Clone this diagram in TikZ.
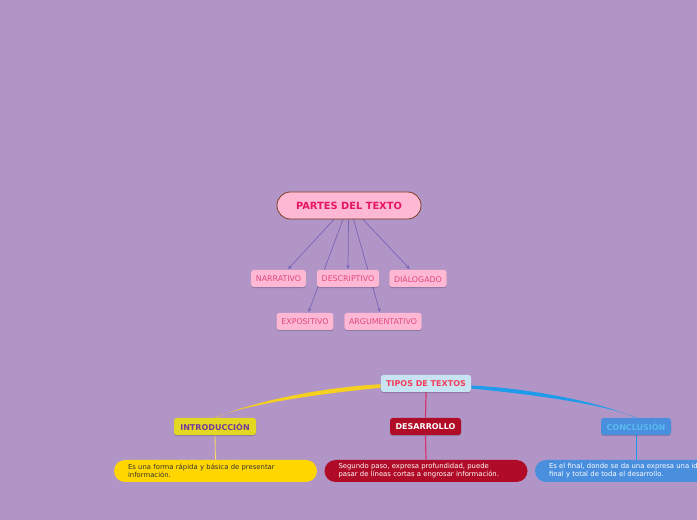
\documentclass[tikz,border=0pt]{standalone}
\usepackage{fontspec}
\setmainfont{DejaVu Sans}
\usetikzlibrary{arrows.meta,calc,shadows}
\pgfdeclarelayer{fondo}
\pgfsetlayers{fondo,main}

\definecolor{lila}{RGB}{177,149,199}
\definecolor{rosa}{RGB}{255,184,212}
\definecolor{rosatexto}{RGB}{220,72,128}
\definecolor{fucsia}{RGB}{230,22,102}
\definecolor{marron}{RGB}{122,60,30}
\definecolor{flecha}{RGB}{122,102,184}
\definecolor{celeste}{RGB}{200,228,242}
\definecolor{rojotitulo}{RGB}{244,60,90}
\definecolor{amarillo}{RGB}{226,216,34}
\definecolor{amarillonota}{RGB}{255,214,0}
\definecolor{amarillolinea}{RGB}{246,208,30}
\definecolor{morado}{RGB}{118,56,158}
\definecolor{granate}{RGB}{176,12,40}
\definecolor{rosalinea}{RGB}{214,52,110}
\definecolor{azul}{RGB}{74,142,222}
\definecolor{azulclaro}{RGB}{88,186,240}
\definecolor{azullinea}{RGB}{30,155,234}

\tikzset{
  sombra/.style={drop shadow={shadow xshift=0pt,shadow yshift=-0.8pt,opacity=0.18,fill=black}},
  titulo/.style={draw=marron,line width=0.6pt,fill=rosa,text=fucsia,rounded corners=10pt,
    minimum width=108pt,minimum height=20.25pt,font=\bfseries\fontsize{7.4}{8}\selectfont},
  tipo/.style={fill=rosa,text=rosatexto,rounded corners=2pt,sombra,minimum height=12.75pt,
    inner xsep=3.6pt,inner ysep=0pt,font=\fontsize{5.9}{7}\selectfont},
  rama/.style={draw=flecha,line width=0.55pt,-{Stealth[length=3.2pt,width=2.6pt]}},
  parte/.style={rounded corners=2pt,sombra,minimum height=12.75pt,inner xsep=4pt,inner ysep=0pt,
    font=\bfseries\fontsize{6}{7}\selectfont},
  nota/.style={rounded corners=8.25pt,minimum width=152.25pt,minimum height=16.5pt,
    text width=131.25pt,inner xsep=10.5pt,inner ysep=0pt,align=left,
    font=\fontsize{5.15}{6}\selectfont},
}

\begin{document}
\begin{tikzpicture}[x=0.75pt,y=0.75pt,yscale=-1,xscale=1]
\clip (0,0) rectangle (697,520);
\begin{pgfonlayer}{fondo}
\fill[lila] (0,0) rectangle (697,520);
\end{pgfonlayer}

% Parte de arriba
\node[titulo] (partes) at (349,205.5) {PARTES DEL TEXTO};
\node[tipo] (narrativo) at (278.5,278.5) {NARRATIVO};
\node[tipo] (descriptivo) at (348,278.5) {DESCRIPTIVO};
\node[tipo] (dialogado) at (418,278.5) {DIÁLOGADO};
\node[tipo] (expositivo) at (305,321.5) {EXPOSITIVO};
\node[tipo] (argumentativo) at (383,321.5) {ARGUMENTATIVO};

\begin{pgfonlayer}{fondo}
\draw[rama] ($(partes.south)+(-15,0)$) -- ($(narrativo.north)+(9.5,-0.5)$);
\draw[rama] ($(partes.south)+(-6,0)$) -- ($(expositivo.north)+(3.5,-0.5)$);
\draw[rama] ($(partes.south)+(-0.5,0)$) -- ($(descriptivo.north)+(0,-0.5)$);
\draw[rama] ($(partes.south)+(4.5,0)$) -- ($(argumentativo.north)+(-3,-0.5)$);
\draw[rama] ($(partes.south)+(14,0)$) -- ($(dialogado.north)+(-8,-0.5)$);
\end{pgfonlayer}

% Parte de abajo
\node[parte,fill=celeste,text=rojotitulo,minimum width=67.5pt] (tipos) at (426,383.5) {TIPOS DE TEXTOS};
\node[parte,fill=amarillo,text=morado,minimum width=61.5pt] (intro) at (215,426.5) {INTRODUCCIÓN};
\node[parte,fill=granate,text=white,minimum width=53.25pt] (desarrollo) at (425.5,426.5) {DESARROLLO};
\node[parte,fill=azul,text=azulclaro,minimum width=52.5pt] (conclusion) at (636,426.5) {CONCLUSIÓN};

\node[nota,fill=amarillonota,text=black!80] (notaintro) at (215.5,471)
  {Es una forma rápida y básica de presentar\\información.};
\node[nota,fill=granate,text=white] (notadesarrollo) at (426,471)
  {Segundo paso, expresa profundidad, puede\\pasar de líneas cortas a engrosar información.};
\node[nota,fill=azul,text=white] (notaconclusion) at (636.5,471)
  {Es el final, donde se da una expresa una idea\\final y total de toda el desarrollo.};

\begin{pgfonlayer}{fondo}
\fill[amarillolinea] ($(tipos.west)+(0,0.8)$) .. controls +(-61,3) and +(34,-15) .. ($(intro.north)+(0.6,0)$)
  -- ($(intro.north)+(-0.6,0)$) .. controls +(34,-14) and +(-61,6) .. ($(tipos.west)+(0,4.3)$) -- cycle;
\fill[azullinea] ($(tipos.east)+(0,2)$) .. controls +(61,3) and +(-34,-15) .. ($(conclusion.north)+(-0.6,0)$)
  -- ($(conclusion.north)+(0.6,0)$) .. controls +(-34,-14) and +(61,6) .. ($(tipos.east)+(0,5)$) -- cycle;
\draw[rosalinea,line width=0.9pt] (tipos.south) -- (desarrollo.north);
\draw[rosalinea,line width=0.9pt] (desarrollo.south) -- (notadesarrollo.north);
\draw[amarillolinea!70!white,line width=0.6pt] (intro.south) -- (notaintro.north);
\draw[azullinea,line width=0.6pt] (conclusion.south) -- (conclusion.south |- notaconclusion.north);
\end{pgfonlayer}
\end{tikzpicture}
\end{document}
